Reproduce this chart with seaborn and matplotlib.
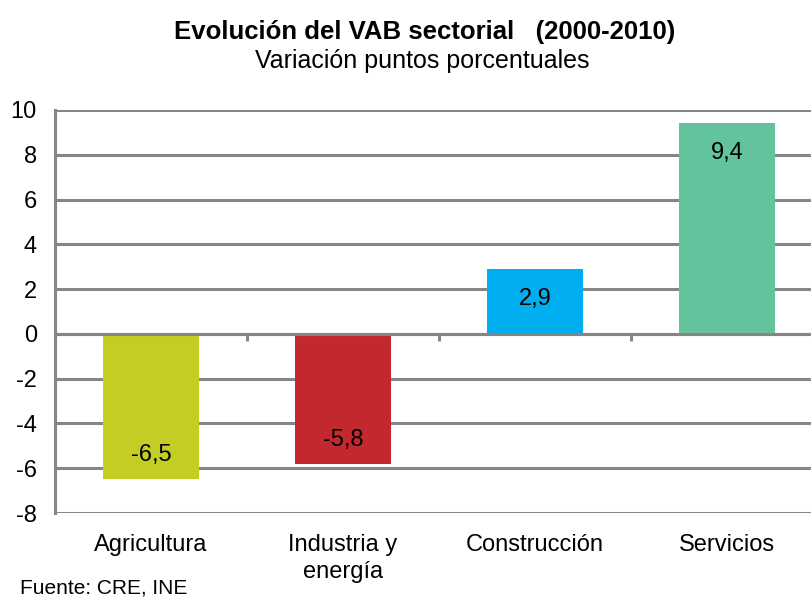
import matplotlib
matplotlib.use("Agg")
import matplotlib.pyplot as plt
import seaborn as sns
import pandas as pd

# datos
sectores = ["Agricultura", "Industria y\nenergía", "Construcción", "Servicios"]
variacion = [-6.5, -5.8, 2.9, 9.4]
colores = ["#C3CD23", "#C3282F", "#00AEEF", "#63C39C"]
y_ticks = [-8, -6, -4, -2, 0, 2, 4, 6, 8, 10]

sns.set_style("white")
plt.rcParams['font.family'] = ['Liberation Sans', 'DejaVu Sans']
plt.rcParams['text.color'] = 'black'

gris = "#868686"
lw = 2.2

df = pd.DataFrame({"sector": sectores, "valor": variacion})

fig = plt.figure(figsize=(8.11, 5.99), dpi=100)
ax = fig.add_axes([55 / 811, 1 - 513 / 599, (823 - 55) / 811, (513 - 110) / 599])

sns.barplot(data=df, x="sector", y="valor", hue="sector", palette=colores,
            width=0.5, legend=False, ax=ax, saturation=1, linewidth=0)

ax.set_ylim(-8, 10)
ax.set_xlim(-0.5, 3.5)
ax.set_yticks(y_ticks)
ax.set_yticklabels([str(t) for t in y_ticks])
ax.yaxis.grid(True, color=gris, linewidth=lw)
ax.set_axisbelow(True)
for s in ["top", "right", "bottom"]:
    ax.spines[s].set_visible(False)
ax.spines["left"].set_color(gris)
ax.spines["left"].set_linewidth(lw)
ax.tick_params(axis="y", length=6, width=lw, color=gris, direction="out",
               pad=7, labelsize=17, labelcolor="black")
ax.tick_params(axis="x", length=0, pad=15, labelsize=17, labelcolor="black")
for lab in ax.get_xticklabels():
    lab.set_linespacing(1.3)
ax.set_xlabel("")
ax.set_ylabel("")

# eje en cero con marcas entre categorias
ax.axhline(0, color=gris, linewidth=lw, zorder=1)
ax.vlines([0.5, 1.5, 2.5], -0.32, 0, color=gris, linewidth=lw, zorder=1)

# etiquetas de valor
for i, v in enumerate(variacion):
    off = -30 if v > 0 else 24
    ax.annotate(f"{v:.1f}".replace(".", ","), (i, v), xytext=(0, off),
                textcoords="offset pixels", ha="center", va="center",
                fontsize=17, color="black")

fig.text(425 / 811, 1 - 32 / 599, "Evolución del VAB sectorial   (2000-2010)",
         ha="center", va="center", fontsize=18.5, fontweight="bold")
fig.text(422 / 811, 1 - 61 / 599, "Variación puntos porcentuales",
         ha="center", va="center", fontsize=18)
fig.text(20 / 811, 1 - 588 / 599, "Fuente: CRE, INE", ha="left", va="center",
         fontsize=15)

fig.savefig("out.png", dpi=100)
